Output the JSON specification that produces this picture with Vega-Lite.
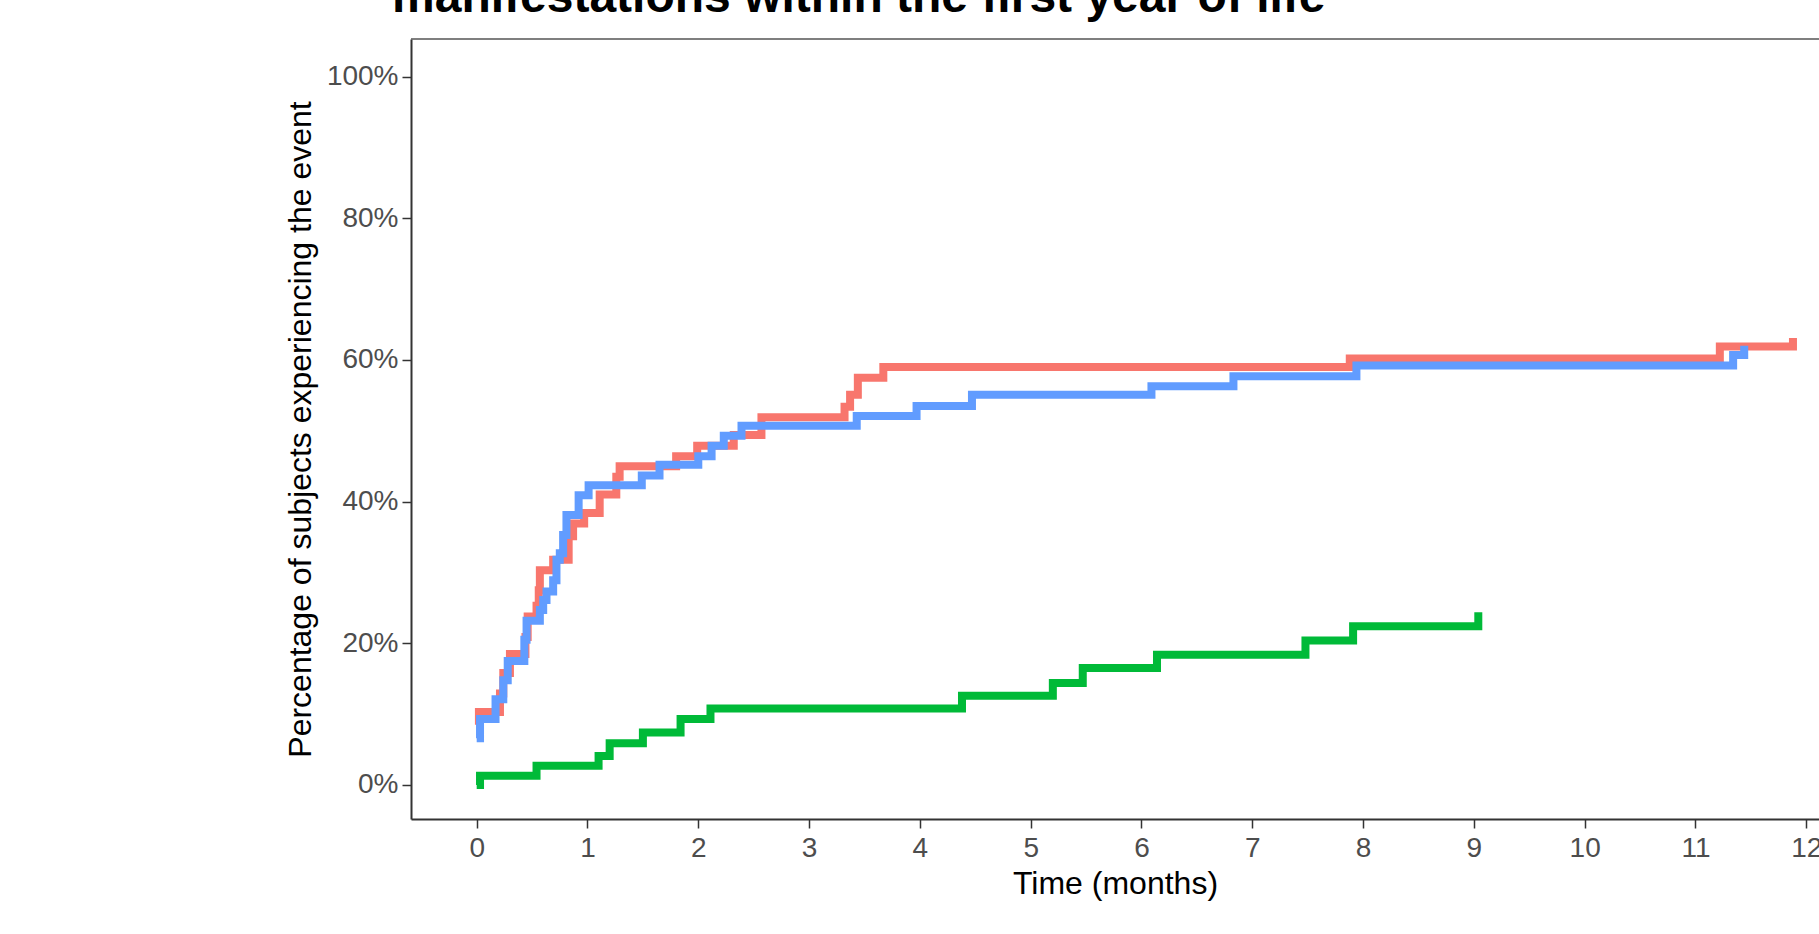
{
  "$schema": "https://vega.github.io/schema/vega-lite/v6.json",
  "width": 1408,
  "height": 780,
  "autosize": {"type": "none"},
  "padding": {"left": 411, "top": 39, "right": 0, "bottom": 115},
  "background": "white",
  "config": {
    "font": "Liberation Sans",
    "view": {"stroke": null},
    "axis": {
      "grid": false,
      "domainColor": "#333333",
      "domainWidth": 2,
      "tickColor": "#333333",
      "tickWidth": 1.5,
      "tickSize": 9,
      "labelFontSize": 28,
      "labelColor": "#4D4D4D",
      "labelFont": "Liberation Sans",
      "titleFontSize": 32,
      "titleFontWeight": "normal",
      "titleColor": "black",
      "titleFont": "Liberation Sans"
    },
    "axisX": {"labelPadding": 6, "titlePadding": 6, "labelFlush": false},
    "axisY": {"labelPadding": 4, "titlePadding": 9}
  },
  "title": {
    "text": "manifestations within the first year of life",
    "anchor": "start",
    "frame": "group",
    "fontSize": 48,
    "fontWeight": "bold",
    "color": "black",
    "font": "Liberation Sans",
    "baseline": "alphabetic",
    "offset": 14,
    "dx": -19,
    "dy": 36
  },
  "datasets": {
    "km": [
      {"strata": "Group 1", "time": 0, "pct": 8.5},
      {"strata": "Group 1", "time": 0.02, "pct": 10.3},
      {"strata": "Group 1", "time": 0.21, "pct": 12.9},
      {"strata": "Group 1", "time": 0.24, "pct": 15.8},
      {"strata": "Group 1", "time": 0.30, "pct": 18.5},
      {"strata": "Group 1", "time": 0.44, "pct": 20.9},
      {"strata": "Group 1", "time": 0.46, "pct": 23.8},
      {"strata": "Group 1", "time": 0.54, "pct": 25.3},
      {"strata": "Group 1", "time": 0.56, "pct": 27.5},
      {"strata": "Group 1", "time": 0.57, "pct": 30.3},
      {"strata": "Group 1", "time": 0.69, "pct": 31.8},
      {"strata": "Group 1", "time": 0.83, "pct": 35.1},
      {"strata": "Group 1", "time": 0.87, "pct": 36.9},
      {"strata": "Group 1", "time": 0.97, "pct": 38.4},
      {"strata": "Group 1", "time": 1.11, "pct": 41.0},
      {"strata": "Group 1", "time": 1.26, "pct": 43.5},
      {"strata": "Group 1", "time": 1.29, "pct": 45.0},
      {"strata": "Group 1", "time": 1.80, "pct": 46.4},
      {"strata": "Group 1", "time": 1.99, "pct": 47.9},
      {"strata": "Group 1", "time": 2.32, "pct": 49.4},
      {"strata": "Group 1", "time": 2.57, "pct": 51.9},
      {"strata": "Group 1", "time": 3.32, "pct": 53.4},
      {"strata": "Group 1", "time": 3.37, "pct": 55.1},
      {"strata": "Group 1", "time": 3.44, "pct": 57.5},
      {"strata": "Group 1", "time": 3.67, "pct": 59.0},
      {"strata": "Group 1", "time": 7.88, "pct": 60.2},
      {"strata": "Group 1", "time": 11.22, "pct": 61.9},
      {"strata": "Group 1", "time": 11.88, "pct": 63.1},
      {"strata": "Group 2", "time": 0, "pct": 0},
      {"strata": "Group 2", "time": 0.03, "pct": 1.3},
      {"strata": "Group 2", "time": 0.54, "pct": 2.7},
      {"strata": "Group 2", "time": 1.10, "pct": 4.1},
      {"strata": "Group 2", "time": 1.20, "pct": 5.9},
      {"strata": "Group 2", "time": 1.50, "pct": 7.4},
      {"strata": "Group 2", "time": 1.84, "pct": 9.3},
      {"strata": "Group 2", "time": 2.11, "pct": 10.8},
      {"strata": "Group 2", "time": 4.38, "pct": 12.6},
      {"strata": "Group 2", "time": 5.20, "pct": 14.4},
      {"strata": "Group 2", "time": 5.47, "pct": 16.5},
      {"strata": "Group 2", "time": 6.14, "pct": 18.4},
      {"strata": "Group 2", "time": 7.48, "pct": 20.4},
      {"strata": "Group 2", "time": 7.91, "pct": 22.4},
      {"strata": "Group 2", "time": 9.04, "pct": 24.4},
      {"strata": "Group 3", "time": 0, "pct": 6.6},
      {"strata": "Group 3", "time": 0.03, "pct": 9.3},
      {"strata": "Group 3", "time": 0.17, "pct": 12.1},
      {"strata": "Group 3", "time": 0.24, "pct": 14.8},
      {"strata": "Group 3", "time": 0.28, "pct": 17.5},
      {"strata": "Group 3", "time": 0.43, "pct": 20.5},
      {"strata": "Group 3", "time": 0.45, "pct": 23.2},
      {"strata": "Group 3", "time": 0.57, "pct": 24.7},
      {"strata": "Group 3", "time": 0.60, "pct": 26.1},
      {"strata": "Group 3", "time": 0.63, "pct": 27.3},
      {"strata": "Group 3", "time": 0.69, "pct": 28.9},
      {"strata": "Group 3", "time": 0.72, "pct": 31.8},
      {"strata": "Group 3", "time": 0.75, "pct": 32.7},
      {"strata": "Group 3", "time": 0.78, "pct": 35.3},
      {"strata": "Group 3", "time": 0.81, "pct": 38.1},
      {"strata": "Group 3", "time": 0.92, "pct": 40.9},
      {"strata": "Group 3", "time": 1.01, "pct": 42.3},
      {"strata": "Group 3", "time": 1.49, "pct": 43.7},
      {"strata": "Group 3", "time": 1.65, "pct": 45.2},
      {"strata": "Group 3", "time": 2.00, "pct": 46.4},
      {"strata": "Group 3", "time": 2.12, "pct": 47.9},
      {"strata": "Group 3", "time": 2.23, "pct": 49.3},
      {"strata": "Group 3", "time": 2.39, "pct": 50.7},
      {"strata": "Group 3", "time": 3.43, "pct": 52.1},
      {"strata": "Group 3", "time": 3.97, "pct": 53.5},
      {"strata": "Group 3", "time": 4.47, "pct": 55.1},
      {"strata": "Group 3", "time": 6.09, "pct": 56.3},
      {"strata": "Group 3", "time": 6.83, "pct": 57.7},
      {"strata": "Group 3", "time": 7.94, "pct": 59.2},
      {"strata": "Group 3", "time": 11.34, "pct": 60.7},
      {"strata": "Group 3", "time": 11.44, "pct": 62.0}
    ]
  },
  "encoding": {
    "y": {
      "field": "pct", "type": "quantitative",
      "scale": {"domain": [-4.8, 105.3], "nice": false, "zero": false},
      "axis": {"title": "Percentage of subjects experiencing the event", "values": [0,20,40,60,80,100], "labelExpr": "datum.value + '%'"}
    }
  },
  "layer": [
    {
      "data": {"values": [{"pct": 105.3}]},
      "mark": {"type": "rule", "color": "#555555", "strokeWidth": 1.5}
    },
    {
      "data": {"name": "km"},
      "transform": [{"filter": "datum.strata === 'Group 1'"}],
      "mark": {"type": "line", "interpolate": "step-after", "strokeWidth": 8, "strokeJoin": "miter"},
      "encoding": {
        "x": {
          "field": "time", "type": "quantitative",
          "scale": {"domain": [-0.593, 12.115], "nice": false, "zero": false},
          "axis": {"title": "Time (months)", "values": [0,1,2,3,4,5,6,7,8,9,10,11,12], "format": "d"}
        },
        "color": {
          "field": "strata", "type": "nominal",
          "scale": {"domain": ["Group 1", "Group 2", "Group 3"], "range": ["#F8766D", "#00BA38", "#619CFF"]},
          "legend": null
        }
      }
    },
    {
      "data": {"name": "km"},
      "transform": [{"filter": "datum.strata === 'Group 2'"}],
      "mark": {"type": "line", "interpolate": "step-after", "strokeWidth": 8, "strokeJoin": "miter"},
      "encoding": {
        "x": {"field": "time", "type": "quantitative"},
        "color": {"field": "strata", "type": "nominal", "legend": null}
      }
    },
    {
      "data": {"name": "km"},
      "transform": [{"filter": "datum.strata === 'Group 3'"}],
      "mark": {"type": "line", "interpolate": "step-after", "strokeWidth": 8, "strokeJoin": "miter"},
      "encoding": {
        "x": {"field": "time", "type": "quantitative"},
        "color": {"field": "strata", "type": "nominal", "legend": null}
      }
    }
  ]
}
